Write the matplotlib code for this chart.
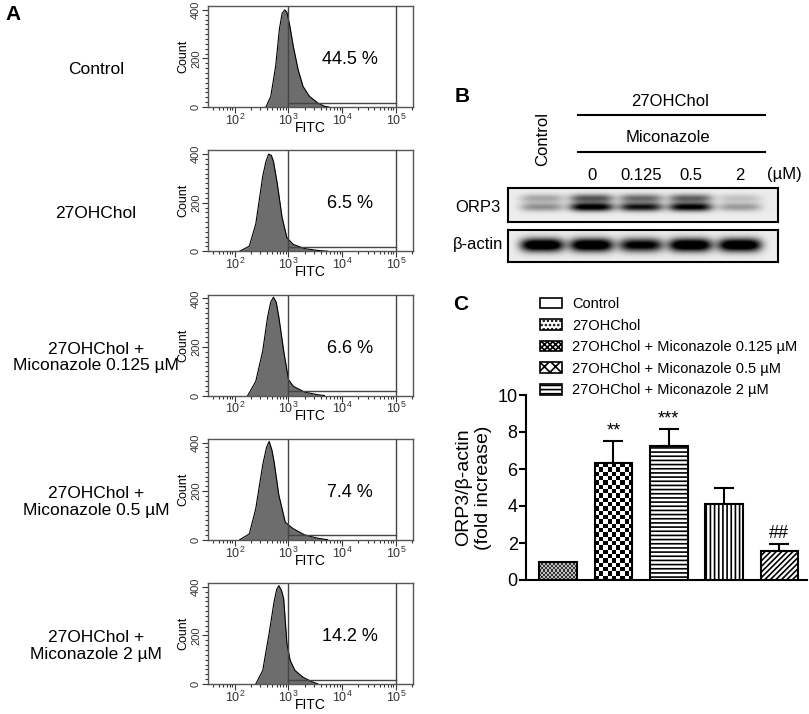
import numpy as np
import matplotlib
matplotlib.use("Agg")
import matplotlib.pyplot as plt
from matplotlib import ticker
from matplotlib.lines import Line2D
from matplotlib.patches import Patch
from matplotlib.transforms import blended_transform_factory

plt.rcParams["font.family"] = ["Liberation Sans", "DejaVu Sans"]
plt.rcParams["mathtext.fontset"] = "custom"
plt.rcParams["mathtext.rm"] = "Liberation Sans"
plt.rcParams["hatch.linewidth"] = 1.2

# ---- panel A: flow cytometry histograms
sample_labels = ["Control", "27OHChol", "27OHChol +\nMiconazole 0.125 µM",
                 "27OHChol +\nMiconazole 0.5 µM", "27OHChol +\nMiconazole 2 µM"]
gate_percent = ["44.5 %", "6.5 %", "6.6 %", "7.4 %", "14.2 %"]
hist_logx = [
    [2.58, 2.67, 2.76, 2.83, 2.88, 2.93, 2.97, 3.02, 3.09, 3.18, 3.27, 3.39, 3.55, 3.67, 3.75],
    [2.09, 2.27, 2.39, 2.52, 2.58, 2.63, 2.68, 2.72, 2.79, 2.88, 2.97, 3.09, 3.30, 3.55, 3.73],
    [2.24, 2.39, 2.52, 2.61, 2.67, 2.72, 2.77, 2.82, 2.91, 3.00, 3.09, 3.30, 3.55, 3.67],
    [2.09, 2.27, 2.39, 2.52, 2.59, 2.64, 2.69, 2.73, 2.82, 2.94, 3.09, 3.30, 3.55, 3.73],
    [2.39, 2.52, 2.64, 2.73, 2.78, 2.82, 2.87, 2.91, 2.97, 3.03, 3.12, 3.27, 3.42, 3.55],
]
hist_counts = [
    [0, 44, 167, 320, 385, 400, 390, 340, 249, 153, 85, 44, 16, 3, 0],
    [0, 21, 112, 309, 370, 400, 395, 370, 280, 140, 56, 28, 11, 3, 0],
    [0, 58, 184, 323, 385, 405, 385, 323, 184, 65, 38, 14, 3, 0],
    [0, 24, 128, 309, 380, 405, 370, 323, 184, 72, 45, 20, 6, 0],
    [0, 56, 210, 337, 390, 405, 385, 351, 168, 98, 56, 28, 11, 0],
]
gate_low, gate_high, gate_count = 1e3, 1e5, 18

# ---- panel B: western blot band strengths per lane
blot_lane_labels = ["0", "0.125", "0.5", "2"]
orp3_upper = [0.3, 0.65, 0.55, 0.6, 0.18]
orp3_lower = [0.4, 1.1, 0.95, 1.05, 0.35]
actin_band = [1.3, 1.3, 1.1, 1.3, 1.3]

# ---- panel C: quantification
legend_labels = ["Control", "27OHChol", "27OHChol + Miconazole 0.125 µM",
                 "27OHChol + Miconazole 0.5 µM", "27OHChol + Miconazole 2 µM"]
bar_values = [1.0, 6.3, 7.25, 4.1, 1.55]
bar_errors = [0.0, 1.2, 0.9, 0.9, 0.4]
bar_marks = ["", "**", "***", "", "##"]

W, H = 809, 714
fig = plt.figure(figsize=(W / 100, H / 100), dpi=100)


def axes_px(left, top, right, bottom):
    return fig.add_axes([left / W, 1 - bottom / H, (right - left) / W, (bottom - top) / H])


def text_px(x, y, s, **kw):
    kw.setdefault("ha", "center")
    kw.setdefault("va", "center")
    return fig.text(x / W, 1 - y / H, s, **kw)


def hline_px(x0, x1, y, lw=1.5):
    fig.add_artist(Line2D([x0 / W, x1 / W], [1 - y / H, 1 - y / H], color="black", lw=lw))


# ================= A =================
text_px(13, 14, "A", fontsize=15, fontweight="bold")
for i in range(5):
    top = 6 + 144.25 * i
    ax = axes_px(208, top, 413, top + 101)
    x = 10 ** np.array(hist_logx[i])
    ax.fill_between(x, 0, hist_counts[i], color="#6d6d6d", lw=0, zorder=2)
    ax.plot(x, hist_counts[i], color="black", lw=0.8, zorder=3)
    ax.axvline(gate_low, color="#444444", lw=1, zorder=4)
    ax.axvline(gate_high, color="#444444", lw=1, zorder=4)
    ax.plot([gate_low, gate_high], [gate_count, gate_count], color="#444444", lw=1, zorder=4)
    ax.set_xscale("log")
    ax.set_xlim(10 ** 1.5, 10 ** 5.32)
    ax.set_ylim(0, 416)
    ax.xaxis.set_major_locator(ticker.FixedLocator([1e2, 1e3, 1e4, 1e5]))
    ax.xaxis.set_minor_locator(ticker.LogLocator(subs=np.arange(2, 10), numticks=20))
    ax.xaxis.set_minor_formatter(ticker.NullFormatter())
    ax.yaxis.set_major_locator(ticker.MultipleLocator(200))
    ax.yaxis.set_minor_locator(ticker.MultipleLocator(20))
    ax.tick_params(axis="both", which="both", colors="#333333", width=0.8)
    ax.tick_params(axis="x", which="major", length=4, labelsize=9, pad=0)
    ax.tick_params(axis="x", which="minor", length=2.5)
    ax.tick_params(axis="y", which="major", length=4, labelsize=8, pad=1, labelrotation=90)
    ax.tick_params(axis="y", which="minor", length=2)
    for lab in ax.get_yticklabels():
        lab.set_va("center")
    for sp in ax.spines.values():
        sp.set_color("#555555")
        sp.set_linewidth(1)
    ax.set_ylabel("Count", fontsize=9, labelpad=1)
    ax.set_xlabel("FITC", fontsize=10, labelpad=-5)
    ax.text(10 ** 4.15, 195, gate_percent[i], fontsize=13, ha="center", va="center")
    text_px(96, top + 63, sample_labels[i], fontsize=12.5, linespacing=1.15)

# ================= B =================
text_px(462, 97, "B", fontsize=15, fontweight="bold")
lane_lo, lane_hi = -0.69, 4.77


def draw_blot(ax, bands):
    nx, ny = 540, 70
    X, Y = np.meshgrid(np.linspace(lane_lo, lane_hi, nx), np.linspace(0, 1, ny))
    dark = np.zeros_like(X)
    for row, sig, strengths in bands:
        for lane, s in enumerate(strengths):
            dark += s * np.exp(-((X - lane) / 0.44) ** 4) * np.exp(-0.5 * ((Y - row) / sig) ** 2)
    img = 0.93 * (1 - np.clip(dark, 0, 1))
    ax.imshow(img, extent=(lane_lo, lane_hi, 1, 0), cmap="gray", vmin=0, vmax=1,
              aspect="auto", interpolation="bilinear")
    ax.set_xlim(lane_lo, lane_hi)
    ax.set_ylim(1, 0)
    ax.set_xticks([])
    ax.set_yticks([])
    for sp in ax.spines.values():
        sp.set_linewidth(1.5)


orp = axes_px(508, 188, 778, 222)
draw_blot(orp, [(0.3, 0.09, orp3_upper), (0.56, 0.09, orp3_lower)])
act = axes_px(508, 230, 778, 262)
draw_blot(act, [(0.47, 0.15, actin_band)])

text_px(478, 207, "ORP3", fontsize=12)
text_px(478, 245, "β-actin", fontsize=12)
text_px(670, 102, "27OHChol", fontsize=12)
hline_px(578, 765, 115)
text_px(668, 138, "Miconazole", fontsize=12)
hline_px(578, 765, 152)
text_px(543, 139, "Control", fontsize=12, rotation=90)
lane_tr = blended_transform_factory(orp.transData, fig.transFigure)
for k, lab in enumerate(blot_lane_labels):
    orp.text(k + 1, 1 - 175 / H, lab, transform=lane_tr, fontsize=12, ha="center", va="center")
text_px(784, 175, "(µM)", fontsize=12)

# ================= C =================
text_px(461, 305, "C", fontsize=15, fontweight="bold")
axc = axes_px(526, 395, 807, 580)
xs = np.arange(len(bar_values))
xlim = (-0.58, 4.5)
bar_hatch = [None, None, "----", "||||", "//////"]
bar_face = ["none", "none", "white", "white", "white"]
bars = axc.bar(xs, bar_values, width=0.68, color=bar_face, edgecolor="black",
               linewidth=1.5, zorder=3)
for b, h in zip(bars, bar_hatch):
    if h:
        b.set_hatch(h)

px_x = 281 / (xlim[1] - xlim[0])
px_y = 185 / 10.0


def checker_fill(bar, cell, dark, light):
    x0, w, h = bar.get_x(), bar.get_width(), bar.get_height()
    nx = max(1, int(round(w * px_x / cell)))
    ny = max(1, int(round(h * px_y / cell)))
    yy, xx = np.indices((ny, nx))
    arr = np.where((xx + yy) % 2 == 0, dark, light)
    im = axc.imshow(arr, extent=(x0, x0 + w, 0, h), cmap="gray", vmin=0, vmax=1,
                    interpolation="nearest", aspect="auto", zorder=2.5)
    im.set_clip_path(bar)


checker_fill(bars[0], 2, 0.2, 0.75)
checker_fill(bars[1], 4.3, 0.0, 1.0)

for x, v, e, m in zip(xs, bar_values, bar_errors, bar_marks):
    if e > 0:
        axc.errorbar(x, v, yerr=[[0], [e]], fmt="none", ecolor="black", elinewidth=1.5,
                     capsize=7, capthick=1.5, zorder=2)
    if m:
        axc.text(x, v + e + 0.1, m, ha="center", va="bottom", fontsize=13)

axc.set_xlim(*xlim)
axc.set_ylim(0, 10)
axc.set_yticks(np.arange(0, 11, 2))
axc.set_xticks([])
axc.spines["top"].set_visible(False)
axc.spines["right"].set_visible(False)
axc.spines["left"].set_linewidth(1.5)
axc.spines["bottom"].set_linewidth(1.5)
axc.tick_params(axis="y", length=5, width=1.5, labelsize=13, pad=1)
axc.set_ylabel("ORP3/β-actin\n(fold increase)", fontsize=14, labelpad=4, linespacing=1.25)

legend_hatch = ["", "....", "xxxxxx", "xxx", "----"]
handles = [Patch(facecolor="white", edgecolor="black", hatch=h, linewidth=1.2) for h in legend_hatch]
axc.legend(handles, legend_labels, loc="upper left", bbox_to_anchor=(540 / W, 1 - 297 / H),
           bbox_transform=fig.transFigure, frameon=False, fontsize=10.5, handlelength=1.5,
           handleheight=0.75, handletextpad=0.7, labelspacing=0.52, borderpad=0,
           borderaxespad=0)

fig.savefig("out.png", dpi=100)
